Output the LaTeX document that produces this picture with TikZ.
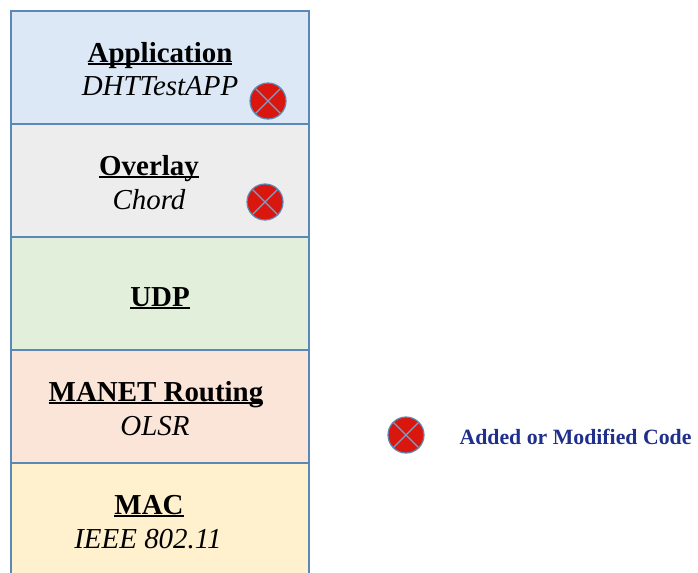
\documentclass[tikz,border=0pt]{standalone}
\usepackage{fontspec}
\setmainfont{Liberation Serif}
\usepackage{tikz}
\definecolor{layerline}{HTML}{5B88B5}
\definecolor{markred}{HTML}{D9170E}
\definecolor{legendblue}{HTML}{1F2F8C}
\newcommand{\headtext}[1]{\bfseries\setbox0=\hbox{#1}\rlap{\rule[-2.6pt]{\wd0}{1.7pt}}\box0}
\tikzset{
    layer/.style={rectangle, draw=layerline, line width=1.2pt, minimum width=223.5pt, minimum height=84.75pt, inner sep=0pt},
    head/.style={anchor=base, inner sep=0pt, font=\fontsize{21.7}{24}\selectfont},
    impl/.style={anchor=base, inner sep=0pt, font=\fontsize{21.7}{24}\selectfont\itshape},
    changed/.style={circle, draw=layerline, fill=markred, line width=0.9pt, minimum size=27pt, inner sep=0pt,
        path picture={
            \draw[layerline!80!white, line width=1pt]
                (path picture bounding box.north west) -- (path picture bounding box.south east)
                (path picture bounding box.north east) -- (path picture bounding box.south west);
        }},
}
\begin{document}
\begin{tikzpicture}[x=0.75pt, y=-0.75pt]
    \useasboundingbox (0,0) rectangle (698,572);
    \path
        node (mac) at (160,519.5) [layer, fill={rgb,255:red,255;green,241;blue,206}] {}
        node (manet) at (160,406.5) [layer, fill={rgb,255:red,251;green,229;blue,216}] {}
        node (udp) at (160,293.5) [layer, fill={rgb,255:red,226;green,239;blue,218}] {}
        node (overlay) at (160,180.5) [layer, fill={rgb,255:red,237;green,237;blue,237}] {}
        node (app) at (160,67.5) [layer, fill={rgb,255:red,220;green,232;blue,245}] {};
    \path
        node (apphead) at (160,62) [head] {\headtext{Application}}
        node (appname) at (160,95) [impl] {DHTTestAPP}
        node (overlayhead) at (149,175) [head] {\headtext{Overlay}}
        node (overlayname) at (149,209) [impl] {Chord}
        node (udphead) at (160,306) [head] {\headtext{UDP}}
        node (manethead) at (156,401) [head] {\headtext{MANET Routing}}
        node (manetname) at (155,435) [impl] {OLSR}
        node (machead) at (149,514) [head] {\headtext{MAC}}
        node (macname) at (148,548) [impl] {IEEE 802.11};
    \path
        node (appmark) at (268,101) [changed] {}
        node (overlaymark) at (265,202) [changed] {}
        node (legendmark) at (406,435) [changed] {};
    \path node (legend) at (575.5,444) [anchor=base, inner sep=0pt, text=legendblue, font=\fontsize{16.35}{20}\selectfont\bfseries] {Added or Modified Code};
\end{tikzpicture}
\end{document}
